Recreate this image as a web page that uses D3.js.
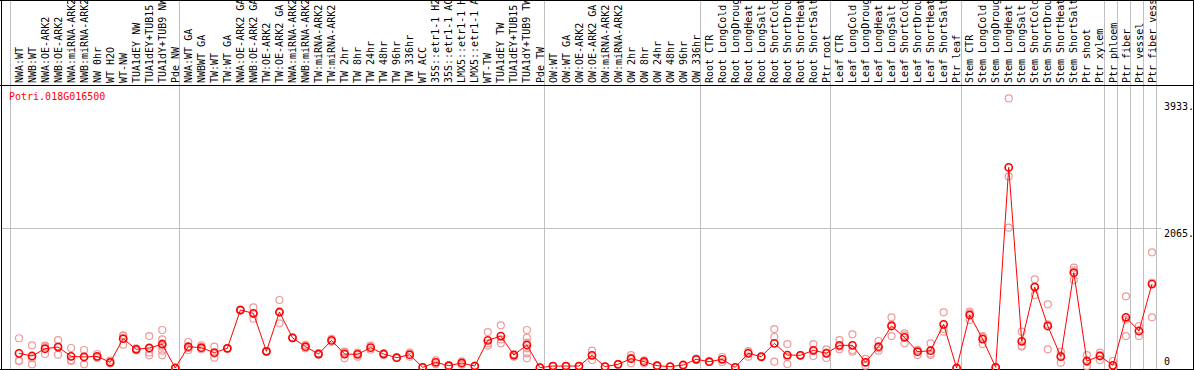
<!DOCTYPE html>
<html>
<head>
<meta charset="utf-8">
<script src="https://cdn.jsdelivr.net/npm/d3@7"></script>
<style>
  body { margin: 0; background: #fff; }
  svg { display: block; }
  text { font-family: "DejaVu Sans Mono", monospace; font-size: 10px; }
</style>
</head>
<body>
<div id="chart"></div>
<script>
const geneId = "Potri.018G016500";

const labels = [
  "NWA:WT", "NWB:WT", "NWA:OE-ARK2", "NWB:OE-ARK2", "NWA:miRNA-ARK2", "NWB:miRNA-ARK2",
  "NW 0hr", "WT H2O", "WT-NW", "TUA1dEY NW", "TUA1dEY+TUB15 NW", "TUA1dY+TUB9 NW", "Pde NW",
  "NWA:WT GA", "NWBWT GA", "TW:WT", "TW:WT GA", "NWA:OE-ARK2 GA", "NWB:OE-ARK2 GA",
  "TW:OE-ARK2", "TW:OE-ARK2 GA", "NWA:miRNA-ARK2 GA", "NWB:miRNA-ARK2 GA", "TW:miRNA-ARK2",
  "TW:miRNA-ARK2 GA", "TW 2hr", "TW 8hr", "TW 24hr", "TW 48hr", "TW 96hr", "TW 336hr",
  "WT ACC", "35S::etr1-1 H2O", "35S::etr1-1 ACC", "LMX5::etr1-1 H2O", "LMX5::etr1-1 ACC",
  "WT-TW", "TUA1dEY TW", "TUA1dEY+TUB15 TW", "TUA1dY+TUB9 TW", "Pde TW",
  "OW:WT", "OW:WT GA", "OW:OE-ARK2", "OW:OE-ARK2 GA", "OW:miRNA-ARK2", "OW:miRNA-ARK2 GA",
  "OW 2hr", "OW 8hr", "OW 24hr", "OW 48hr", "OW 96hr", "OW 336hr",
  "Root CTR", "Root LongCold", "Root LongDrought", "Root LongHeat", "Root LongSalt",
  "Root ShortCold", "Root ShortDrought", "Root ShortHeat", "Root ShortSalt", "Ptr root",
  "Leaf CTR", "Leaf LongCold", "Leaf LongDrought", "Leaf LongHeat", "Leaf LongSalt",
  "Leaf ShortCold", "Leaf ShortDrought", "Leaf ShortHeat", "Leaf ShortSalt", "Ptr leaf",
  "Stem CTR", "Stem LongCold", "Stem LongDrought", "Stem LongHeat", "Stem LongSalt",
  "Stem ShortCold", "Stem ShortDrought", "Stem ShortHeat", "Stem ShortSalt", "Ptr shoot", "Ptr xylem",
  "Ptr phloem", "Ptr fiber", "Ptr vessel", "Ptr fiber vessel"
];

// number of columns in each sample group (gray separators between them)
const groupSizes = [13, 28, 12, 10, 10, 11, 1, 1, 1, 1];

const means = [
  216, 177, 284, 309, 172, 162, 172, 84, 432, 275, 295, 350, 0,
  314, 299, 226, 290, 854, 805, 246, 825, 445, 314, 206, 407, 206, 201, 300, 206, 152, 196,
  10, 84, 34, 74, 29, 407, 471, 191, 339, 5,
  29, 29, 29, 187, 20, 54, 137, 93, 34, 20, 44, 128,
  93, 128, 10, 216, 167, 363, 191, 187, 260, 216,
  334, 334, 84, 314, 619, 452, 240, 255, 643, 0,
  781, 427, 10, 2956, 393, 1193, 619, 167, 1404, 103, 177,
  39, 747, 545, 1237
];

const replicates = [
  [438, 108, 102], [334, 54, 143], [314, 206, 330], [412, 196, 320], [295, 118, 103],
  [265, 54, 167], [206, 147, 163], [108, 69, 75], [481, 343, 472], [290, 260, 275],
  [471, 187, 227], [560, 423, 363, 314, 255, 187], [0, 0, 0],
  [383, 265, 295], [334, 275, 290], [314, 152, 212], [290, 285, 295], [860, 850, 852],
  [894, 726, 795], [250, 240, 248], [1002, 658, 815], [450, 440], [340, 290], [215, 197],
  [430, 385], [240, 143, 235], [226, 167, 210], [329, 270], [216, 196], [157, 147], [226, 167],
  [5, 15], [113, 54], [39, 29], [98, 49], [34, 24],
  [530, 329, 362], [629, 363, 421], [206, 167, 200], [560, 447, 373, 290, 216, 143], [5, 5],
  [29, 29], [29, 29], [29, 29], [255, 118, 188], [20, 20], [60, 48], [191, 69, 150],
  [113, 69], [34, 34], [20, 20], [44, 44], [140, 118],
  [98, 88], [162, 88], [10, 10], [230, 167, 250], [172, 157], [574, 457, 93],
  [353, 59, 162], [190, 184], [353, 177, 250], [275, 147, 226],
  [412, 275, 315], [496, 240, 265], [34, 134, 84], [398, 255, 290], [747, 471, 640],
  [511, 363, 482], [265, 191, 265], [363, 191, 211], [820, 535, 575], [0, 0],
  [830, 707, 806], [471, 353, 457], [10, 10], [3972, 2823, 2067], [535, 329, 315],
  [1306, 1075, 1198], [938, 275, 645], [240, 79, 182], [1478, 1296, 1438], [191, 29, 89],
  [226, 118, 187],
  [103, 10, 4], [1056, 471, 714], [619, 471], [1704, 747, 1260]
];

const tickValues = [0, 2065, 3933];
const tickLabels = ["0", "2065.", "3933."];

const W = 1194, H = 370;
const plotTop = 85, plotBottom = 369;

const svg = d3.select('#chart')
    .append('svg')
    .attr('width', W)
    .attr('height', H);

const x = d3.scaleBand()
    .domain(labels)
    .range([10, 1156])
    .padding(0);

const y = d3.scaleLinear()
    .domain([0, 4170])
    .range([368, 85]);

const px = d => x(d) + 9;

// group separators
let acc = 0;
const sepIdx = [0];
groupSizes.forEach(n => { acc += n; sepIdx.push(acc); });
const bw = x.bandwidth();

svg.append('g')
    .selectAll('line')
    .data(sepIdx)
    .enter()
    .append('line')
    .attr('x1', i => Math.round(10 + i * bw) + 0.5)
    .attr('x2', i => Math.round(10 + i * bw) + 0.5)
    .attr('y1', 0)
    .attr('y2', plotBottom)
    .attr('stroke', '#c0c0c0')
    .attr('stroke-width', 1);

// mid grid line
svg.append('line')
    .attr('x1', 1).attr('x2', 1161)
    .attr('y1', Math.round(y(2065)) + 0.5)
    .attr('y2', Math.round(y(2065)) + 0.5)
    .attr('stroke', '#c0c0c0');

// frame
const frame = svg.append('g').attr('stroke', '#000').attr('stroke-width', 1);
frame.append('line').attr('x1', 0).attr('x2', W).attr('y1', 0.5).attr('y2', 0.5);
frame.append('line').attr('x1', 0).attr('x2', W).attr('y1', plotTop + 0.5).attr('y2', plotTop + 0.5);
frame.append('line').attr('x1', 0).attr('x2', W).attr('y1', plotBottom + 0.5).attr('y2', plotBottom + 0.5);
frame.append('line').attr('x1', 1.5).attr('x2', 1.5).attr('y1', 0).attr('y2', H);
frame.append('line').attr('x1', 1193.5).attr('x2', 1193.5).attr('y1', 0).attr('y2', H);

// rotated sample labels
svg.append('g')
    .selectAll('text')
    .data(labels)
    .enter()
    .append('text')
    .attr('transform', d => `translate(${px(d) + 3.6}, 83) rotate(-90)`)
    .attr('fill', '#000')
    .text(d => d);

// title
svg.append('text')
    .attr('x', 9)
    .attr('y', 100)
    .attr('fill', '#ff0000')
    .text(geneId);

// y labels on right
svg.append('g')
    .selectAll('text')
    .data(tickValues)
    .enter()
    .append('text')
    .attr('x', 1164)
    .attr('y', d => d === 0 ? 365 : y(d) + 9)
    .attr('fill', '#000')
    .text((d, i) => tickLabels[i]);

// replicate circles
const reps = [];
replicates.forEach((r, i) => r.forEach(v => reps.push({label: labels[i], v: v})));

svg.append('g')
    .selectAll('circle')
    .data(reps)
    .enter()
    .append('circle')
    .attr('cx', d => px(d.label))
    .attr('cy', d => y(d.v))
    .attr('r', 3.5)
    .attr('fill', 'none')
    .attr('stroke', '#ee9a9a')
    .attr('stroke-width', 1.2);

// mean line
const line = d3.line()
    .x((d, i) => px(labels[i]))
    .y(d => y(d));

svg.append('path')
    .datum(means)
    .attr('fill', 'none')
    .attr('stroke', '#ff0000')
    .attr('stroke-width', 1)
    .attr('d', line);

svg.append('g')
    .selectAll('circle')
    .data(means)
    .enter()
    .append('circle')
    .attr('cx', (d, i) => px(labels[i]))
    .attr('cy', d => y(d))
    .attr('r', 3.6)
    .attr('fill', 'none')
    .attr('stroke', '#ff0000')
    .attr('stroke-width', 1.6);
</script>
</body>
</html>
